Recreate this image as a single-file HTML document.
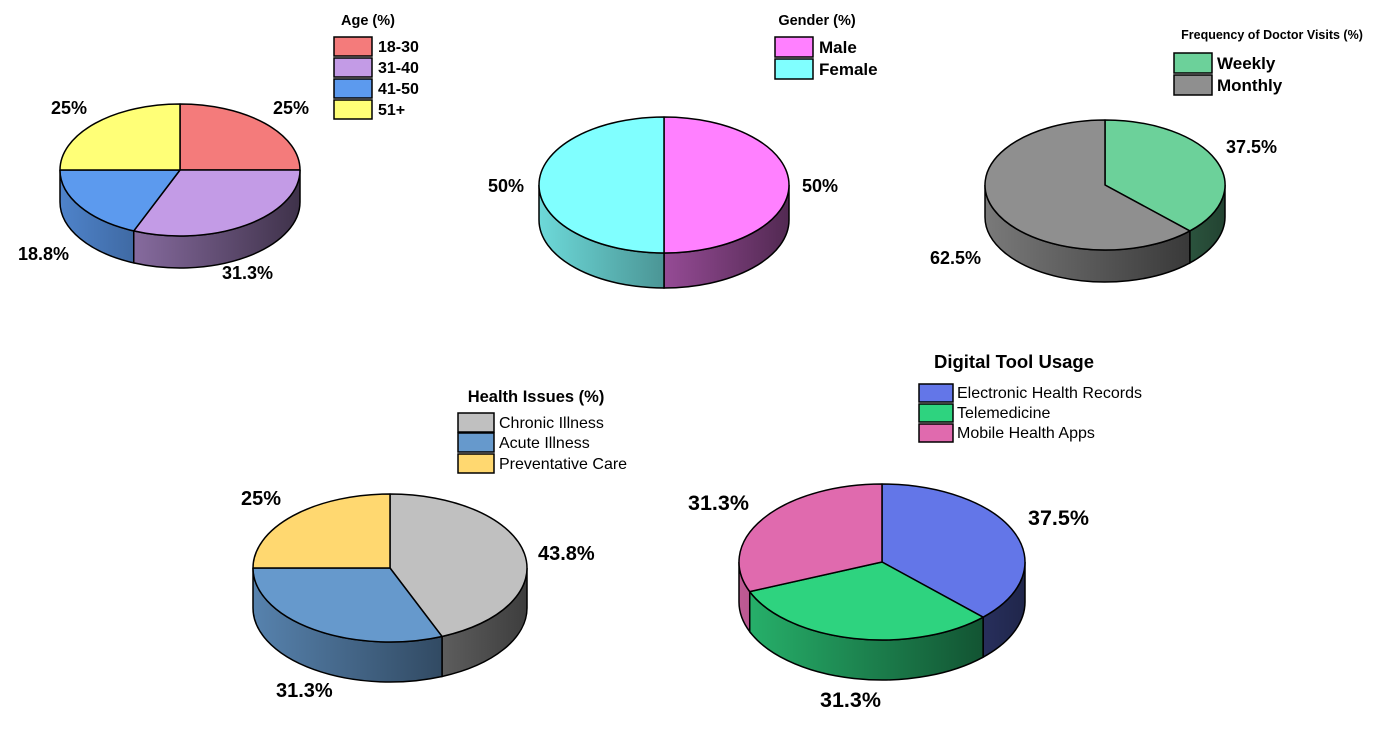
<!DOCTYPE html>
<html><head><meta charset="utf-8"><style>
body{margin:0;background:#fff;}
svg{display:block;font-family:"Liberation Sans",Arial,sans-serif;}
.p{font-weight:bold;font-size:18px;}
</style></head><body>
<svg id="s" width="1383" height="737" viewBox="0 0 1383 737" xmlns="http://www.w3.org/2000/svg">
<defs></defs>
<g id="pies"></g>
<g stroke="#000" stroke-width="1.5">
<rect x="334" y="37" width="38" height="19" fill="#F47B7B"/><rect x="334" y="58" width="38" height="19" fill="#C39BE6"/><rect x="334" y="79" width="38" height="19" fill="#5C9AEE"/><rect x="334" y="100" width="38" height="19" fill="#FFFF77"/>
<rect x="775" y="37" width="38" height="20" fill="#FF80FF"/><rect x="775" y="59" width="38" height="20" fill="#80FFFF"/>
<rect x="1174" y="53" width="38" height="20" fill="#6CD19A"/><rect x="1174" y="75" width="38" height="20" fill="#8F8F8F"/>
<rect x="458" y="413" width="36" height="19" fill="#C0C0C0"/><rect x="458" y="433" width="36" height="19" fill="#6699CC"/><rect x="458" y="454" width="36" height="19" fill="#FFD870"/>
<rect x="919" y="384" width="34" height="18" fill="#6376E8"/><rect x="919" y="404" width="34" height="18" fill="#2ED37F"/><rect x="919" y="424" width="34" height="18" fill="#E06AAE"/>
</g>
<g font-weight="bold">
<text x="368" y="25" font-size="14.5" text-anchor="middle">Age (%)</text>
<text x="378" y="52" font-size="16">18-30</text><text x="378" y="73" font-size="16">31-40</text><text x="378" y="94" font-size="16">41-50</text><text x="378" y="115" font-size="16">51+</text>
<text x="817" y="25" font-size="14.5" text-anchor="middle">Gender (%)</text>
<text x="819" y="53" font-size="17">Male</text><text x="819" y="75" font-size="17">Female</text>
<text x="1272" y="39" font-size="12.5" text-anchor="middle">Frequency of Doctor Visits (%)</text>
<text x="1217" y="69" font-size="17">Weekly</text><text x="1217" y="91" font-size="17">Monthly</text>
<text x="536" y="402" font-size="16.5" text-anchor="middle">Health Issues (%)</text>
<text x="1014" y="368" font-size="18.5" text-anchor="middle">Digital Tool Usage</text>
</g>
<g font-size="16">
<text x="499" y="428">Chronic Illness</text><text x="499" y="448">Acute Illness</text><text x="499" y="469">Preventative Care</text>
<text x="957" y="398">Electronic Health Records</text><text x="957" y="418">Telemedicine</text><text x="957" y="438">Mobile Health Apps</text>
</g>
<g class="p">
<text x="273" y="114">25%</text><text x="51" y="114">25%</text><text x="18" y="260">18.8%</text><text x="222" y="279">31.3%</text>
<text x="488" y="192">50%</text><text x="802" y="192">50%</text>
<text x="1226" y="153">37.5%</text><text x="930" y="264">62.5%</text>
<text x="241" y="505" font-size="20">25%</text><text x="538" y="560" font-size="20">43.8%</text><text x="276" y="697" font-size="20">31.3%</text>
<text x="688" y="510" font-size="21.5">31.3%</text><text x="1028" y="525" font-size="21.5">37.5%</text><text x="820" y="707" font-size="21.5">31.3%</text>
</g>
</svg>
<script>
var NS="http://www.w3.org/2000/svg",G=document.getElementById("pies");
function el(t,a){var e=document.createElementNS(NS,t);for(var k in a)e.setAttribute(k,a[k]);G.appendChild(e);return e;}
function pt(cx,cy,rx,ry,a,d){a=a*Math.PI/180;return [cx+rx*Math.sin(a),cy-ry*Math.cos(a)+(d||0)];}
function pie(cx,cy,rx,ry,dp,sl){
 var gid="g"+cx;var lg=document.createElementNS(NS,"linearGradient");
 lg.setAttribute("id",gid);lg.setAttribute("gradientUnits","userSpaceOnUse");
 lg.setAttribute("x1",cx-rx);lg.setAttribute("x2",cx+rx);lg.setAttribute("y1",0);lg.setAttribute("y2",0);
 lg.innerHTML='<stop offset="0" stop-color="#000" stop-opacity="0.15"/><stop offset="1" stop-color="#000" stop-opacity="0.68"/>';
 document.querySelector("defs").appendChild(lg);
 var a=0,arr=[];
 sl.forEach(function(s){arr.push([a,a+s[0]*3.6,s[1]]);a+=s[0]*3.6;});
 arr.forEach(function(r){
  var s=Math.max(r[0],90),e=Math.min(r[1],270);if(e<=s)return;
  var p1=pt(cx,cy,rx,ry,s),p2=pt(cx,cy,rx,ry,e),p3=pt(cx,cy,rx,ry,e,dp),p4=pt(cx,cy,rx,ry,s,dp);
  var d="M"+p1+"A"+rx+","+ry+" 0 0 1 "+p2+"L"+p3+"A"+rx+","+ry+" 0 0 0 "+p4+"Z";
  el("path",{d:d,fill:r[2]});
  el("path",{d:d,fill:"url(#"+gid+")",stroke:"#000","stroke-width":1.5});
 });
 arr.forEach(function(r){
  var p1=pt(cx,cy,rx,ry,r[0]),p2=pt(cx,cy,rx,ry,r[1]);var lf=(r[1]-r[0])>180?1:0;
  el("path",{d:"M"+cx+","+cy+"L"+p1+"A"+rx+","+ry+" 0 "+lf+" 1 "+p2+"Z",fill:r[2],stroke:"#000","stroke-width":1.5,"stroke-linejoin":"round"});
 });
}
pie(180,170,120,66,32,[[25,"#F47B7B"],[31.3,"#C39BE6"],[18.7,"#5C9AEE"],[25,"#FFFF77"]]);
pie(664,185,125,68,35,[[50,"#FF80FF"],[50,"#80FFFF"]]);
pie(1105,185,120,65,32,[[37.5,"#6CD19A"],[62.5,"#8F8F8F"]]);
pie(390,568,137,74,40,[[43.8,"#C0C0C0"],[31.2,"#6699CC"],[25,"#FFD870"]]);
pie(882,562,143,78,40,[[37.5,"#6376E8"],[31.3,"#2ED37F"],[31.2,"#E06AAE"]]);
</script>
</body></html>
